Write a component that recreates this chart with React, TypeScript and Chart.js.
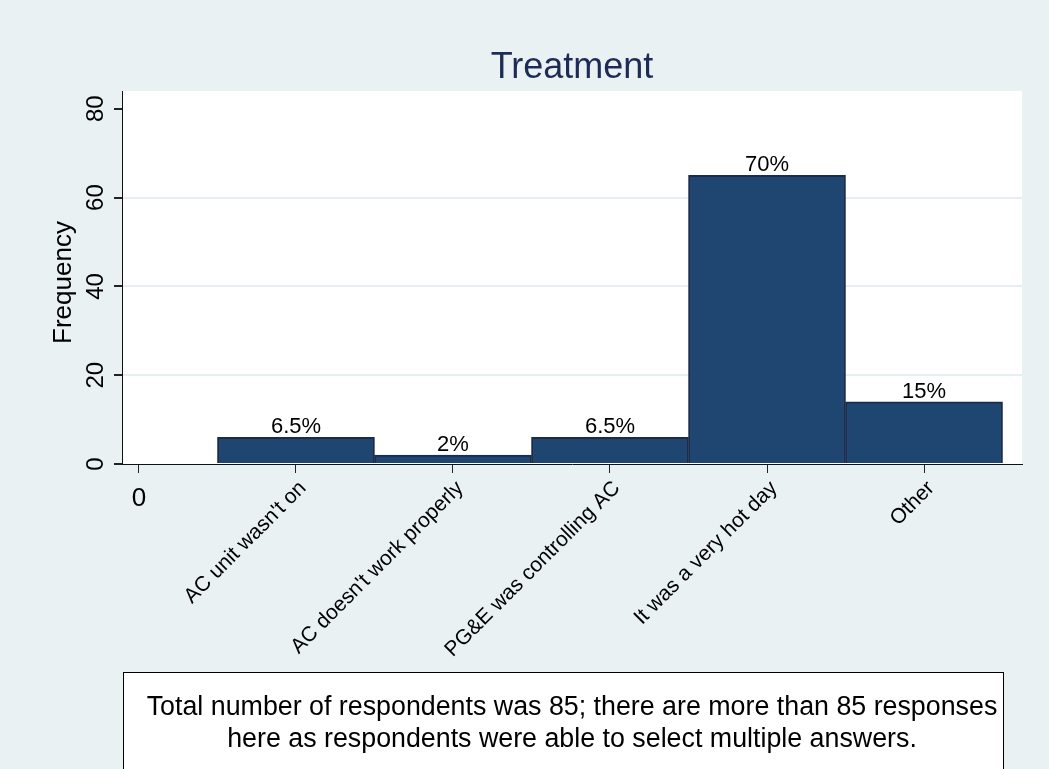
import React, { useEffect, useRef } from "react";
import { Chart, registerables } from "chart.js";

Chart.register(...registerables);

const chartTitle = "Treatment";
const yAxisTitle = "Frequency";
const categories = [
  "AC unit wasn't on",
  "AC doesn't work properly",
  "PG&E was controlling AC",
  "It was a very hot day",
  "Other",
];
const positions = [1, 2, 3, 4, 5];
const frequencies = [6, 2, 6, 65, 14];
const percentLabels = ["6.5%", "2%", "6.5%", "70%", "15%"];
const yTicks = [0, 20, 40, 60, 80];
const xTicks = [0, 1, 2, 3, 4, 5];
const xTickLabels = ["0", ...categories];
const noteLines = [
  "Total number of respondents was 85; there are more than 85 responses",
  "here as respondents were able to select multiple answers.",
];

const W = 1049;
const H = 769;
const FONT = "'Liberation Sans', Arial, Helvetica, sans-serif";
const BG = "#e9f1f3";
const GRID = "#e6eef1";
const BAR_FILL = "#1e4670";
const BAR_EDGE = "#1b2b4c";
const TITLE_COLOR = "#1e2c55";

const decorPlugin = {
  id: "decor",
  beforeDraw(chart: any) {
    const { ctx, chartArea } = chart;
    ctx.save();
    ctx.fillStyle = BG;
    ctx.fillRect(0, 0, W, H);
    ctx.fillStyle = "#ffffff";
    ctx.fillRect(chartArea.left, chartArea.top, chartArea.right - chartArea.left, chartArea.bottom - chartArea.top);
    ctx.restore();
  },
  afterDraw(chart: any) {
    const { ctx, chartArea, scales } = chart;
    const xs = scales.x;
    const ys = scales.y;
    ctx.save();
    // title
    ctx.fillStyle = TITLE_COLOR;
    ctx.font = `36px ${FONT}`;
    ctx.textAlign = "center";
    ctx.textBaseline = "alphabetic";
    ctx.fillText(chartTitle, (chartArea.left + chartArea.right) / 2, 78);

    // y tick labels (rotated)
    ctx.fillStyle = "#000";
    ctx.font = `24px ${FONT}`;
    yTicks.forEach((v) => {
      const py = ys.getPixelForValue(v);
      ctx.save();
      ctx.translate(103, py);
      ctx.rotate(-Math.PI / 2);
      ctx.textAlign = "center";
      ctx.textBaseline = "alphabetic";
      ctx.fillText(String(v), 0, 0);
      ctx.restore();
    });
    // y axis title
    ctx.save();
    ctx.font = `26px ${FONT}`;
    ctx.translate(71, (chartArea.top + chartArea.bottom) / 2 + 5);
    ctx.rotate(-Math.PI / 2);
    ctx.textAlign = "center";
    ctx.textBaseline = "alphabetic";
    ctx.fillText(yAxisTitle, 0, 0);
    ctx.restore();

    // x tick labels
    xTicks.forEach((v, i) => {
      const px = xs.getPixelForValue(v);
      const label = xTickLabels[i];
      if (i === 0) {
        ctx.font = `26px ${FONT}`;
        ctx.textAlign = "center";
        ctx.textBaseline = "alphabetic";
        ctx.fillText(label, px, 506);
      } else {
        ctx.font = `21px ${FONT}`;
        ctx.save();
        ctx.translate(px + 7, chartArea.bottom + 21);
        ctx.rotate(-Math.PI / 4);
        ctx.textAlign = "right";
        ctx.textBaseline = "middle";
        ctx.fillText(label, 0, 0);
        ctx.restore();
      }
    });

    // bar value labels
    ctx.font = `22px ${FONT}`;
    ctx.textAlign = "center";
    ctx.textBaseline = "alphabetic";
    positions.forEach((p, i) => {
      const px = xs.getPixelForValue(p);
      const py = ys.getPixelForValue(frequencies[i]);
      ctx.fillText(percentLabels[i], px, py - 4);
    });

    // note box
    ctx.fillStyle = "#ffffff";
    ctx.fillRect(123, 672, 880, 120);
    ctx.strokeStyle = "#000";
    ctx.lineWidth = 1;
    ctx.strokeRect(123.5, 672.5, 880, 120);
    ctx.fillStyle = "#000";
    ctx.font = `26.8px ${FONT}`;
    ctx.textAlign = "center";
    ctx.fillText(noteLines[0], 572, 715);
    ctx.fillText(noteLines[1], 572, 747);
    ctx.restore();
  },
};

export default function App() {
  const ref = useRef<HTMLCanvasElement | null>(null);
  useEffect(() => {
    if (!ref.current) return;
    const chart = new Chart(ref.current, {
      type: "bar",
      data: {
        datasets: [
          {
            data: positions.map((x, i) => ({ x, y: frequencies[i] })),
            backgroundColor: BAR_FILL,
            borderColor: BAR_EDGE,
            borderWidth: 2,
            barPercentage: 1,
            categoryPercentage: 1,
          },
        ],
      },
      options: {
        responsive: false,
        animation: false,
        events: [],
        layout: { padding: { left: 0, top: 91, right: W - 1022, bottom: 0 } },
        plugins: {
          legend: { display: false },
          title: { display: false },
          tooltip: { enabled: false },
        },
        scales: {
          x: {
            type: "linear",
            offset: false,
            min: -0.108,
            max: 5.624,
            afterBuildTicks: (s: any) => {
              s.ticks = xTicks.map((v) => ({ value: v }));
            },
            afterFit: (s: any) => {
              s.height = H - 464;
            },
            ticks: { display: false },
            grid: {
              offset: false,
              drawOnChartArea: false,
              drawTicks: true,
              tickLength: 9,
              tickColor: "#222",
              lineWidth: 1,
            },
            border: { display: true, color: "#111", width: 1 },
          },
          y: {
            type: "linear",
            min: 0,
            max: 84,
            afterBuildTicks: (s: any) => {
              s.ticks = yTicks.map((v) => ({ value: v }));
            },
            afterFit: (s: any) => {
              s.width = 122;
            },
            ticks: { display: false },
            grid: {
              drawOnChartArea: true,
              drawTicks: true,
              tickLength: 8,
              tickColor: "#222",
              lineWidth: 2,
              color: (c: any) =>
                c.tick && c.tick.value > 0 && c.tick.value < 80 ? GRID : "rgba(0,0,0,0)",
            },
            border: { display: true, color: "#111", width: 1 },
          },
        },
      },
      plugins: [decorPlugin],
    });
    return () => chart.destroy();
  }, []);
  return (
    <div style={{ position: "fixed", left: 0, top: 0, width: W, height: H, background: BG }}>
      <canvas ref={ref} width={W} height={H} style={{ width: W, height: H, display: "block" }} />
    </div>
  );
}
